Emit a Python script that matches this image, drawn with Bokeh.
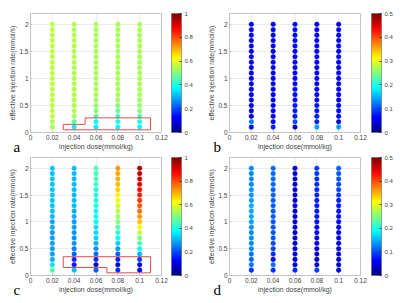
from bokeh.plotting import figure
from bokeh.models import ColumnDataSource, LinearColorMapper, ColorBar, FixedTicker, Label
from bokeh.layouts import column, row
from bokeh.embed import file_html
from bokeh.resources import INLINE

# ---------------- data ----------------
doses = [0.02, 0.04, 0.06, 0.08, 0.1]
rates = [0.1, 0.2, 0.3, 0.4, 0.5, 0.6, 0.7, 0.8, 0.9, 1.0,
         1.1, 1.2, 1.3, 1.4, 1.5, 1.6, 1.7, 1.8, 1.9, 2.0]

# values per dose column, listed from rate 0.1 up to 2.0
panel_a = [
    [0.54, 0.55, 0.56, 0.56, 0.56, 0.56, 0.56, 0.56, 0.56, 0.56, 0.56, 0.56, 0.56, 0.56, 0.56, 0.56, 0.56, 0.56, 0.56, 0.56],
    [0.36, 0.46, 0.54, 0.55, 0.55, 0.55, 0.55, 0.55, 0.55, 0.55, 0.55, 0.55, 0.55, 0.55, 0.55, 0.55, 0.55, 0.55, 0.55, 0.55],
    [0.36, 0.38, 0.45, 0.50, 0.52, 0.53, 0.54, 0.54, 0.54, 0.54, 0.54, 0.54, 0.54, 0.54, 0.54, 0.54, 0.54, 0.54, 0.54, 0.54],
    [0.37, 0.39, 0.44, 0.48, 0.51, 0.53, 0.54, 0.54, 0.54, 0.54, 0.54, 0.54, 0.54, 0.54, 0.54, 0.54, 0.54, 0.54, 0.54, 0.54],
    [0.37, 0.40, 0.45, 0.50, 0.52, 0.53, 0.54, 0.54, 0.54, 0.54, 0.54, 0.54, 0.54, 0.54, 0.54, 0.54, 0.54, 0.54, 0.54, 0.54],
]
panel_b = [
    [0.070, 0.125, 0.050, 0.040, 0.050, 0.055, 0.050, 0.055, 0.050, 0.055, 0.045, 0.055, 0.050, 0.055, 0.055, 0.058, 0.055, 0.060, 0.058, 0.060],
    [0.080, 0.065, 0.060, 0.060, 0.058, 0.060, 0.060, 0.055, 0.060, 0.060, 0.055, 0.060, 0.060, 0.060, 0.058, 0.060, 0.060, 0.060, 0.060, 0.060],
    [0.025, 0.100, 0.075, 0.075, 0.075, 0.072, 0.070, 0.070, 0.068, 0.068, 0.066, 0.066, 0.066, 0.065, 0.066, 0.066, 0.068, 0.068, 0.068, 0.070],
    [0.140, 0.080, 0.075, 0.075, 0.070, 0.068, 0.066, 0.065, 0.065, 0.065, 0.064, 0.064, 0.064, 0.064, 0.063, 0.063, 0.063, 0.063, 0.063, 0.063],
    [0.135, 0.050, 0.070, 0.065, 0.062, 0.060, 0.060, 0.060, 0.060, 0.060, 0.060, 0.060, 0.060, 0.060, 0.060, 0.060, 0.060, 0.060, 0.060, 0.060],
]
panel_c = [
    [0.45, 0.35, 0.30, 0.28, 0.28, 0.28, 0.28, 0.28, 0.29, 0.29, 0.31, 0.31, 0.32, 0.32, 0.32, 0.32, 0.32, 0.32, 0.32, 0.32],
    [0.31, 0.15, 0.17, 0.22, 0.25, 0.27, 0.27, 0.27, 0.28, 0.28, 0.30, 0.30, 0.31, 0.31, 0.31, 0.31, 0.31, 0.31, 0.31, 0.31],
    [0.22, 0.09, 0.17, 0.23, 0.27, 0.30, 0.33, 0.34, 0.35, 0.37, 0.38, 0.38, 0.40, 0.40, 0.41, 0.41, 0.43, 0.44, 0.44, 0.45],
    [0.17, 0.10, 0.16, 0.22, 0.28, 0.33, 0.38, 0.42, 0.46, 0.50, 0.53, 0.56, 0.58, 0.61, 0.63, 0.67, 0.69, 0.70, 0.71, 0.73],
    [0.14, 0.10, 0.19, 0.30, 0.38, 0.45, 0.50, 0.56, 0.63, 0.68, 0.73, 0.76, 0.79, 0.82, 0.85, 0.87, 0.90, 0.92, 0.93, 0.95],
]
panel_d = [
    [0.085, 0.120, 0.115, 0.120, 0.130, 0.130, 0.130, 0.130, 0.135, 0.140, 0.145, 0.145, 0.145, 0.140, 0.135, 0.135, 0.130, 0.130, 0.130, 0.130],
    [0.085, 0.120, 0.070, 0.085, 0.095, 0.100, 0.105, 0.105, 0.105, 0.105, 0.108, 0.108, 0.110, 0.110, 0.110, 0.110, 0.112, 0.112, 0.115, 0.115],
    [0.085, 0.045, 0.040, 0.040, 0.038, 0.038, 0.036, 0.036, 0.038, 0.036, 0.036, 0.038, 0.036, 0.036, 0.038, 0.038, 0.036, 0.038, 0.038, 0.040],
    [0.095, 0.030, 0.032, 0.035, 0.045, 0.050, 0.055, 0.058, 0.060, 0.070, 0.072, 0.075, 0.075, 0.078, 0.080, 0.082, 0.085, 0.085, 0.088, 0.090],
    [0.050, 0.032, 0.032, 0.035, 0.045, 0.050, 0.052, 0.055, 0.060, 0.068, 0.070, 0.072, 0.075, 0.080, 0.090, 0.095, 0.100, 0.100, 0.105, 0.110],
]

# highlighted regions (red outlines)
region_a_x = [0.03, 0.11, 0.11, 0.05, 0.05, 0.03, 0.03]
region_a_y = [0.05, 0.05, 0.27, 0.27, 0.15, 0.15, 0.05]
region_c_x = [0.03, 0.11, 0.11, 0.07, 0.07, 0.03, 0.03]
region_c_y = [0.35, 0.35, 0.05, 0.05, 0.15, 0.15, 0.35]

x_ticks = [0, 0.02, 0.04, 0.06, 0.08, 0.1, 0.12]
x_tick_labels = ["0", "0.02", "0.04", "0.06", "0.08", "0.1", "0.12"]
y_ticks = [0, 0.5, 1, 1.5, 2]
y_tick_labels = ["0", "0.5", "1", "1.5", "2"]
cb1_ticks = [0, 0.2, 0.4, 0.6, 0.8, 1]
cb1_labels = ["0", "0.2", "0.4", "0.6", "0.8", "1"]
cb05_ticks = [0, 0.1, 0.2, 0.3, 0.4, 0.5]
cb05_labels = ["0", "0.1", "0.2", "0.3", "0.4", "0.5"]

# ---------------- jet colormap ----------------
def jet_palette(n=256):
    pal = []
    for i in range(n):
        t = i / (n - 1)
        r = min(max(1.5 - abs(4 * t - 3), 0), 1)
        g = min(max(1.5 - abs(4 * t - 2), 0), 1)
        b = min(max(1.5 - abs(4 * t - 1), 0), 1)
        pal.append("#%02x%02x%02x" % (int(r * 255), int(g * 255), int(b * 255)))
    return pal

JET = jet_palette()
FONT = "Liberation Sans"
TXT = "#444444"
AXC = "#c4c4c4"
FRAME_W = 131


def make_panel(cols, high, cb_ticks, cb_labels, letter, region, top_row, left_border):
    xs, ys, vs = [], [], []
    for d, col in zip(doses, cols):
        for r, v in zip(rates, col):
            xs.append(d)
            ys.append(r)
            vs.append(v)
    src = ColumnDataSource(dict(x=xs, y=ys, v=vs))
    mapper = LinearColorMapper(palette=JET, low=0, high=high)
    fh = 119 if top_row else 118

    p = figure(output_backend="svg", toolbar_location=None,
               frame_width=FRAME_W, frame_height=fh,
               x_range=(0, 0.12), y_range=(0, 2.2),
               min_border_left=left_border, min_border_right=200 - FRAME_W - left_border,
               min_border_top=13 if top_row else 4,
               min_border_bottom=21 if top_row else 27,
               background_fill_color="white", border_fill_color="white")
    p.outline_line_color = AXC
    p.grid.grid_line_color = "#ececec"
    p.xgrid.ticker = FixedTicker(ticks=x_ticks)
    p.ygrid.ticker = FixedTicker(ticks=y_ticks)

    p.xaxis.ticker = FixedTicker(ticks=x_ticks)
    p.xaxis.major_label_overrides = {t: l for t, l in zip(x_ticks, x_tick_labels)}
    p.yaxis.ticker = FixedTicker(ticks=y_ticks)
    p.yaxis.major_label_overrides = {t: l for t, l in zip(y_ticks, y_tick_labels)}
    p.xaxis.axis_label = "injection dose(mmol/kg)"
    p.yaxis.axis_label = "effective injection rate(mmol/s)"
    for ax in (p.xaxis, p.yaxis):
        ax.axis_line_color = AXC
        ax.major_tick_line_color = AXC
        ax.minor_tick_line_color = None
        ax.major_tick_in = 2
        ax.major_tick_out = 0
        ax.major_label_text_font = FONT
        ax.major_label_text_font_size = "6.5px"
        ax.major_label_text_color = TXT
        ax.major_label_standoff = 2
        ax.axis_label_text_font = FONT
        ax.axis_label_text_font_size = "7px"
        ax.axis_label_text_font_style = "normal"
        ax.axis_label_text_color = TXT
        ax.axis_label_standoff = 0

    p.scatter("x", "y", source=src, size=4.6, marker="circle",
              fill_color={"field": "v", "transform": mapper},
              line_color={"field": "v", "transform": mapper}, line_width=0.5)

    if region is not None:
        p.line(region[0], region[1], line_color="#e84a4a", line_width=1)

    # panel letter: lives in the right side panel (next to the frame, so it is not
    # clipped) and is shifted to the lower-left corner of the figure
    lab = Label(x=-(FRAME_W + left_border - 13), y=-14.5, x_units="screen", y_units="screen",
                text=letter, text_font="Liberation Serif",
                text_font_size="15px", text_color="black", text_baseline="alphabetic")
    p.add_layout(lab, "right")

    cb = ColorBar(color_mapper=mapper, width=10, height=fh,
                  location=(3, 0), padding=0, margin=0,
                  ticker=FixedTicker(ticks=cb_ticks),
                  major_label_overrides={t: l for t, l in zip(cb_ticks, cb_labels)},
                  major_label_text_font=FONT, major_label_text_font_size="6px",
                  major_label_text_color=TXT, label_standoff=3,
                  major_tick_line_color="#333333", major_tick_in=2, major_tick_out=0,
                  bar_line_color="#666666", bar_line_width=0.6,
                  border_line_color=None, background_fill_color=None)
    p.add_layout(cb, "right")
    return p


pa = make_panel(panel_a, 1.0, cb1_ticks, cb1_labels, "a", (region_a_x, region_a_y), True, 30)
pb = make_panel(panel_b, 0.5, cb05_ticks, cb05_labels, "b", None, True, 29)
pc = make_panel(panel_c, 1.0, cb1_ticks, cb1_labels, "c", (region_c_x, region_c_y), False, 30)
pd = make_panel(panel_d, 0.5, cb05_ticks, cb05_labels, "d", None, False, 29)

layout = column(row(pa, pb), row(pc, pd))
open("out.html", "w").write(file_html(layout, INLINE))
